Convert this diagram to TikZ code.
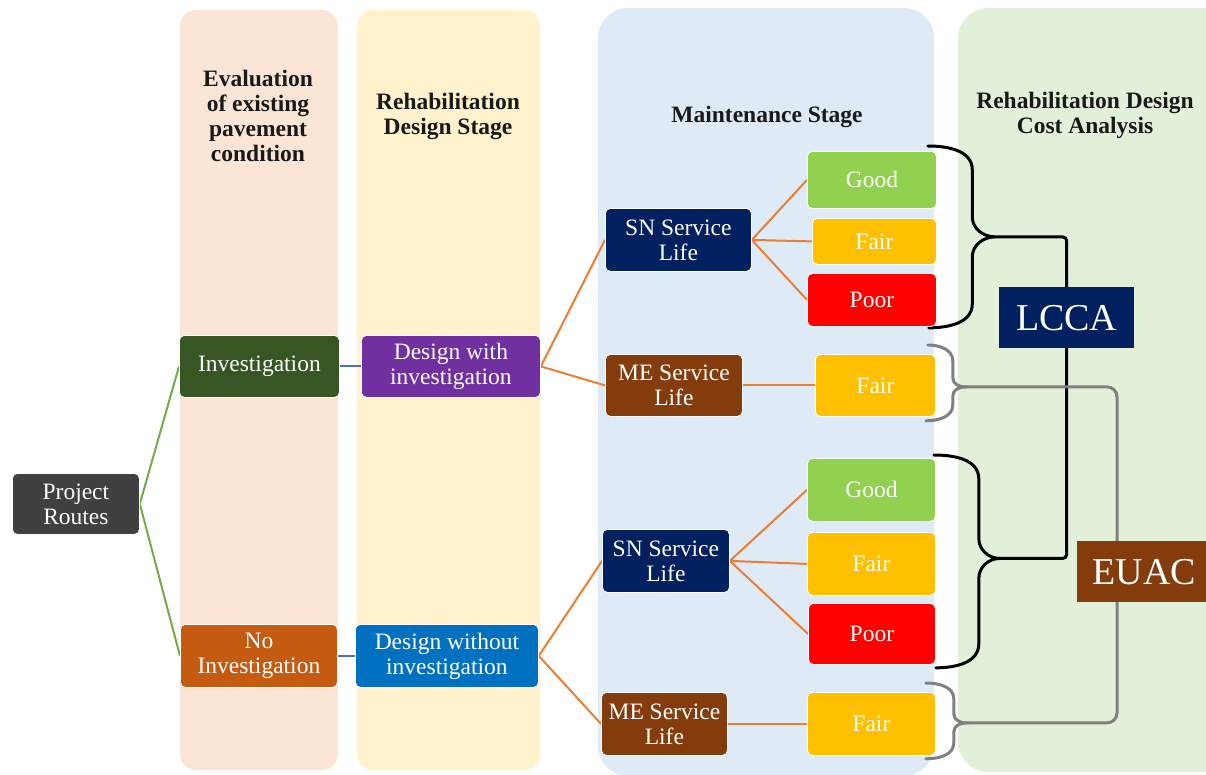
\documentclass[tikz,border=0pt]{standalone}
\usepackage{fontspec}
\setmainfont{Liberation Serif}
\usetikzlibrary{calc}
\pgfdeclarelayer{bg}
\pgfdeclarelayer{lines}
\pgfsetlayers{bg,lines,main}

\definecolor{colA}{HTML}{FBE5D6}
\definecolor{colB}{HTML}{FFF2CC}
\definecolor{colC}{HTML}{DEEBF7}
\definecolor{colD}{HTML}{E2F0D9}
\definecolor{cRoute}{HTML}{404040}
\definecolor{cInv}{HTML}{375623}
\definecolor{cNoInv}{HTML}{C55A11}
\definecolor{cDwi}{HTML}{7030A0}
\definecolor{cDwo}{HTML}{0070C0}
\definecolor{cNavy}{HTML}{002060}
\definecolor{cBrown}{HTML}{843C0C}
\definecolor{cGood}{HTML}{92D050}
\definecolor{cFair}{HTML}{FFC000}
\definecolor{cPoor}{HTML}{FF0000}
\definecolor{lGreen}{HTML}{70AD47}
\definecolor{lBlue}{HTML}{4472C4}
\definecolor{lOrange}{HTML}{ED7D31}
\definecolor{lGray}{HTML}{808080}

% curly brace: style, top end, bottom end, tip, tip-to-spine offset, end radius, middle radius
\newcommand\curlybrace[7]{%
  \draw[#1] let \p1=(#2), \p2=(#3), \p3=(#4) in
    (\p1) to[out=0,in=90] (\x3-#5,\y1-#6) -- (\x3-#5,\y3+#7)
    to[out=-90,in=180] (\p3) to[out=180,in=90] (\x3-#5,\y3-#7)
    -- (\x3-#5,\y2+#6) to[out=-90,in=0] (\p2);}

\begin{document}
\begin{tikzpicture}[x=1pt,y=-1pt,
  box/.style={rectangle, rounded corners=5pt, draw=white, line width=0.8pt,
    text=white, font=\fontsize{23.5}{25}\selectfont, align=center,
    inner sep=0pt, anchor=north west},
  costbox/.style={rectangle, text=white, font=\fontsize{38}{40}\selectfont,
    inner sep=0pt, anchor=north west},
  head/.style={font=\fontsize{23.5}{25}\selectfont\bfseries, text=black!90,
    align=center, inner sep=0pt},
  column/.style={rounded corners=#1},
  greenline/.style={draw=lGreen, line width=2pt},
  blueline/.style={draw=lBlue, line width=2pt},
  orangeline/.style={draw=lOrange, line width=2pt},
  blackbrace/.style={draw=black, line width=3pt, line cap=round},
  graybrace/.style={draw=lGray, line width=3pt, line cap=round},
]
\useasboundingbox (0,0) rectangle (1206,774);

% stage columns
\begin{pgfonlayer}{bg}
  \clip (0,0) rectangle (1206,774);
  \fill[white] (0,0) rectangle (1206,774);
  \fill[colA, column=16pt] (180,10) rectangle (338,770);
  \fill[colB, column=16pt] (357,10) rectangle (540,770);
  \fill[colC, column=30pt] (598,8) rectangle (934,776);
  \fill[colD, column=30pt] (958,8) rectangle (1250,772);
\end{pgfonlayer}

% column headings
\node[head] (hA) at (258,116) {Evaluation\\of existing\\pavement\\condition};
\node[head] (hB) at (448,116) {Rehabilitation\\Design Stage};
\node[head] (hC) at (767,117) {Maintenance Stage};
\node[head] (hD) at (1085,115) {Rehabilitation Design\\Cost Analysis};

% boxes
\node[box, fill=cRoute, minimum width=127pt, minimum height=61pt] (pr) at (12,473) {Project\\Routes};
\node[box, fill=cInv, minimum width=160pt, minimum height=62pt] (inv) at (179,335) {Investigation};
\node[box, fill=cNoInv, minimum width=157pt, minimum height=63pt] (noinv) at (180,624) {No\\Investigation};
\node[box, fill=cDwi, minimum width=179pt, minimum height=62pt] (dwi) at (361,335) {Design with\\investigation};
\node[box, fill=cDwo, minimum width=183pt, minimum height=63pt] (dwo) at (355,624) {Design without\\investigation};

\node[box, fill=cNavy, minimum width=146pt, minimum height=63pt] (sn1) at (605,208) {SN Service\\Life};
\node[box, fill=cBrown, minimum width=137pt, minimum height=62pt] (me1) at (605,354) {ME Service\\Life};
\node[box, fill=cGood, minimum width=129pt, minimum height=57pt] (good1) at (807,151) {Good};
\node[box, fill=cFair, minimum width=124pt, minimum height=46pt] (fair1) at (812,218) {Fair};
\node[box, fill=cPoor, minimum width=129pt, minimum height=53pt] (poor1) at (807,273) {Poor};
\node[box, fill=cFair, minimum width=120pt, minimum height=62pt] (fairme1) at (815,354) {Fair};

\node[box, fill=cNavy, minimum width=127pt, minimum height=63pt] (sn2) at (602,529) {SN Service\\Life};
\node[box, fill=cGood, minimum width=128pt, minimum height=63pt] (good2) at (807,458) {Good};
\node[box, fill=cFair, minimum width=128pt, minimum height=63pt] (fair2) at (807,532) {Fair};
\node[box, fill=cPoor, minimum width=127pt, minimum height=61pt] (poor2) at (808,603) {Poor};
\node[box, fill=cBrown, minimum width=126pt, minimum height=63pt] (me2) at (601,692) {ME Service\\Life};
\node[box, fill=cFair, minimum width=128pt, minimum height=63pt] (fairme2) at (807,692) {Fair};

\node[costbox, fill=cNavy, minimum width=135pt, minimum height=61pt] (lcca) at (999,287) {LCCA};
\node[costbox, fill=cBrown, minimum width=134pt, minimum height=61pt] (euac) at (1077,541) {EUAC};

% brace end points
\coordinate (bA1) at ($(good1.north east)+(-9,-5)$);
\coordinate (bA2) at ($(poor1.south east)+(-8,1)$);
\coordinate (bAt) at ($(bA1)!0.5!(bA2)+(67,0)$);
\coordinate (bB1) at ($(good2.north east)+(-2,-3)$);
\coordinate (bB2) at ($(poor2.south east)+(0,3)$);
\coordinate (bBt) at ($(bB1)!0.5!(bB2)+(65,-3)$);
\coordinate (gA1) at ($(fairme1.north east)+(-8,-9)$);
\coordinate (gA2) at ($(fairme1.south east)+(-10,4)$);
\coordinate (gAt) at ($(gA1)!0.5!(gA2)+(38,4)$);
\coordinate (gB1) at ($(fairme2.north east)+(-10,-9)$);
\coordinate (gB2) at ($(fairme2.south east)+(-10,3)$);
\coordinate (gBt) at ($(gB1)!0.5!(gB2)+(40,2)$);
\coordinate (gx) at ($(euac.west)+(40,0)$);

\begin{pgfonlayer}{lines}
  \draw[greenline] (pr.east) -- (inv.west);
  \draw[greenline] (pr.east) -- (noinv.west);
  \draw[blueline] (inv.east) -- (dwi.west);
  \draw[blueline] (noinv.east) -- (dwo.west);

  \draw[orangeline] (dwi.east) -- (sn1.west);
  \draw[orangeline] (dwi.east) -- (me1.west);
  \draw[orangeline] (sn1.east) -- (good1.west);
  \draw[orangeline] (sn1.east) -- (fair1.west);
  \draw[orangeline] (sn1.east) -- (poor1.west);
  \draw[orangeline] (me1.east) -- (fairme1.west);

  \draw[orangeline] (dwo.east) -- (sn2.west);
  \draw[orangeline] (dwo.east) -- (me2.west);
  \draw[orangeline] (sn2.east) -- (good2.west);
  \draw[orangeline] (sn2.east) -- (fair2.west);
  \draw[orangeline] (sn2.east) -- (poor2.west);
  \draw[orangeline] (me2.east) -- (fairme2.west);

  % LCCA grouping
  \curlybrace{blackbrace}{bA1}{bA2}{bAt}{23pt}{24pt}{20pt}
  \curlybrace{blackbrace}{bB1}{bB2}{bBt}{21pt}{24pt}{20pt}
  \draw[blackbrace, rounded corners=4pt] (bAt) -| (lcca.center) |- (bBt);

  % EUAC grouping
  \curlybrace{graybrace}{gA1}{gA2}{gAt}{12pt}{16pt}{9pt}
  \curlybrace{graybrace}{gB1}{gB2}{gBt}{12pt}{16pt}{9pt}
  \draw[graybrace, rounded corners=10pt] (gAt) -| (gx) |- (gBt);
\end{pgfonlayer}
\end{tikzpicture}
\end{document}
